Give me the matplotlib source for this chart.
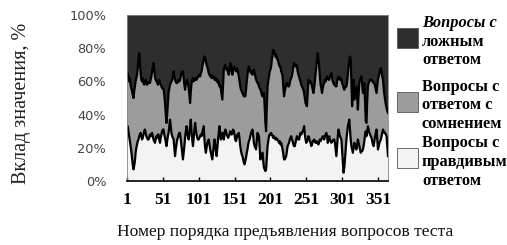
import numpy as np
import matplotlib.pyplot as plt
from matplotlib.patches import Rectangle

# Доля вопросов с правдивым ответом, %
true_pct = [
    31, 33, 30, 27, 24, 21, 18, 14, 10, 7,
    9, 12, 17, 20, 22, 24, 25, 27, 28, 29,
    27, 25, 26, 28, 30, 31, 29, 27, 26, 25,
    25, 26, 28, 27, 28, 29, 27, 25, 24, 23,
    25, 27, 26, 28, 28, 25, 23, 26, 28, 30,
    31, 31, 28, 26, 24, 21, 24, 27, 29, 33,
    37, 33, 29, 27, 26, 25, 20, 15, 19, 22,
    25, 26, 28, 29, 29, 25, 21, 17, 13, 17,
    21, 26, 30, 33, 29, 27, 25, 29, 33, 37,
    29, 25, 21, 26, 31, 35, 31, 28, 26, 25,
    25, 26, 27, 28, 27, 29, 31, 33, 25, 20,
    17, 20, 23, 24, 25, 22, 19, 17, 15, 13,
    17, 21, 25, 22, 18, 15, 20, 25, 29, 33,
    28, 25, 27, 29, 29, 25, 28, 31, 30, 28,
    27, 26, 27, 28, 30, 29, 28, 29, 31, 30,
    28, 25, 24, 26, 28, 27, 29, 25, 21, 18,
    16, 15, 13, 11, 10, 12, 14, 17, 19, 22,
    24, 25, 27, 29, 30, 31, 27, 23, 21, 20,
    19, 24, 29, 28, 27, 20, 13, 15, 16, 17,
    12, 8, 7, 6, 7, 14, 21, 24, 27, 28,
    28, 29, 28, 27, 26, 27, 26, 25, 26, 25,
    25, 24, 23, 24, 22, 23, 21, 19, 16, 13,
    13, 14, 15, 18, 21, 22, 23, 25, 26, 27,
    25, 24, 22, 21, 21, 23, 25, 27, 26, 25,
    25, 27, 29, 28, 29, 30, 31, 33, 28, 25,
    23, 24, 25, 27, 26, 24, 23, 21, 22, 24,
    24, 25, 24, 23, 24, 23, 23, 22, 24, 25,
    24, 25, 26, 27, 26, 25, 27, 28, 29, 27,
    23, 25, 27, 25, 24, 23, 24, 24, 25, 25,
    23, 19, 15, 21, 27, 31, 29, 27, 26, 25,
    18, 11, 5, 8, 13, 19, 25, 29, 33, 35,
    37, 31, 25, 21, 19, 17, 20, 23, 21, 20,
    19, 22, 25, 23, 21, 19, 17, 18, 18, 19,
    21, 24, 28, 30, 27, 30, 33, 31, 29, 28,
    27, 26, 24, 22, 21, 24, 27, 29, 31, 25,
    19, 21, 23, 24, 25, 27, 29, 31, 30, 29,
    29, 28, 27, 21, 15,
]

# Доля вопросов с ответом с сомнением, %
doubt_pct = [
    32, 32, 33, 33, 38, 37, 38, 40, 42, 43,
    45, 45, 43, 42, 42, 44, 48, 50, 44, 36,
    34, 35, 36, 31, 28, 28, 32, 33, 32, 34,
    34, 34, 31, 34, 35, 37, 42, 46, 43, 40,
    36, 33, 34, 30, 31, 36, 36, 32, 29, 26,
    25, 24, 24, 21, 17, 14, 16, 20, 24, 23,
    21, 26, 31, 34, 37, 41, 43, 46, 41, 37,
    34, 34, 33, 31, 32, 38, 44, 49, 53, 45,
    37, 29, 28, 27, 32, 32, 31, 23, 14, 17,
    30, 36, 41, 34, 30, 26, 31, 33, 36, 38,
    38, 38, 36, 37, 39, 40, 40, 40, 50, 54,
    55, 50, 46, 43, 40, 42, 44, 47, 47, 50,
    45, 42, 36, 39, 44, 45, 41, 34, 31, 24,
    30, 30, 25, 20, 29, 42, 41, 39, 38, 39,
    41, 39, 37, 39, 41, 40, 38, 35, 36, 39,
    40, 42, 42, 42, 39, 38, 34, 35, 36, 37,
    38, 38, 39, 40, 42, 39, 41, 43, 45, 45,
    45, 43, 39, 36, 36, 33, 39, 44, 44, 43,
    42, 36, 30, 31, 30, 36, 42, 39, 36, 34,
    40, 45, 38, 29, 23, 31, 36, 36, 36, 38,
    39, 40, 45, 49, 53, 51, 51, 50, 50, 49,
    48, 48, 47, 45, 47, 43, 44, 44, 41, 38,
    41, 42, 43, 41, 37, 35, 34, 34, 35, 35,
    38, 42, 47, 50, 49, 46, 45, 42, 40, 39,
    38, 34, 31, 30, 28, 26, 24, 20, 22, 22,
    23, 21, 28, 34, 34, 35, 37, 38, 35, 31,
    29, 31, 36, 42, 45, 50, 54, 51, 45, 38,
    34, 31, 27, 29, 32, 34, 34, 32, 33, 36,
    39, 36, 34, 38, 40, 42, 38, 36, 34, 33,
    35, 38, 42, 39, 35, 32, 33, 34, 36, 36,
    41, 47, 51, 47, 43, 38, 32, 31, 31, 34,
    35, 44, 48, 39, 26, 41, 41, 26, 32, 35,
    38, 28, 18, 29, 38, 42, 45, 45, 40, 34,
    35, 35, 19, 6, 8, 18, 24, 28, 31, 33,
    34, 35, 36, 38, 38, 35, 30, 26, 22, 32,
    42, 42, 42, 43, 43, 39, 34, 30, 26, 23,
    20, 18, 17, 21, 26,
]

tick_labels = ["1", "51", "101", "151", "201", "251", "301", "351"]
legend_labels = [
    ["Вопросы с", "ложным", "ответом"],
    ["Вопросы с", "ответом с", "сомнением"],
    ["Вопросы с", "правдивым", "ответом"],
]

t = np.array(true_pct, dtype=float)
d = np.array(doubt_pct, dtype=float)
f = 100 - t - d
x = np.arange(1, len(t) + 1)

c_true, c_doubt, c_false = "#f3f3f3", "#9c9c9c", "#2e2e2e"

W, H = 507, 245
fig = plt.figure(figsize=(W / 100, H / 100), dpi=100)
ax = fig.add_axes([127 / W, 1 - 181 / H, 261 / W, 166 / H])

ax.stackplot(x, t, d, f, colors=[c_true, c_doubt, c_false], linewidth=0)
ax.plot(x, t, color="black", lw=1.6)
ax.plot(x, t + d, color="black", lw=1.6)

ax.set_xlim(1, len(t))
ax.set_ylim(0, 100)
ax.set_yticks(range(0, 101, 20))
ax.set_yticklabels([f"{v}%" for v in range(0, 101, 20)],
                   fontsize=9.3, color="#444444", family="DejaVu Sans")
ax.tick_params(axis="y", length=0, pad=15)
ax.set_xticks([int(s) for s in tick_labels])
ax.set_xticklabels(tick_labels, fontsize=12.5, fontweight="bold",
                   family="Liberation Serif")
ax.tick_params(axis="x", direction="in", length=3, width=1, pad=8)

for s in ["left", "top", "right"]:
    ax.spines[s].set_color("#888888")
    ax.spines[s].set_linewidth(0.6)
ax.spines["bottom"].set_linewidth(1.2)

fig.text(22 / W, 1 - 103 / H, "Вклад значения, %", rotation=90,
         ha="center", va="center", fontsize=14.5, color="#222222",
         family="Liberation Serif")
fig.text(285 / W, 1 - 232 / H, "Номер порядка предъявления вопросов теста",
         ha="center", va="center", fontsize=12.6, color="#111111",
         family="Liberation Serif")

# легенда
boxes = [(28, c_false), (92, c_doubt), (148, c_true)]
lines_y = [(23, 42, 60), (87, 105, 124), (143, 162, 181)]
for (by, col), labels, ys in zip(boxes, legend_labels, lines_y):
    fig.patches.append(Rectangle((397 / W, 1 - (by + 20) / H), 21 / W, 20 / H,
                                 transform=fig.transFigure, facecolor=col,
                                 edgecolor="#555555", lw=0.6))
    for i, (txt, yy) in enumerate(zip(labels, ys)):
        style = "italic" if (labels is legend_labels[0] and i == 0) else "normal"
        fig.text(422 / W, 1 - yy / H, txt, ha="left", va="center",
                 fontsize=11.8, fontweight="bold", style=style,
                 family="Liberation Serif")

fig.savefig("out.png", dpi=100)
